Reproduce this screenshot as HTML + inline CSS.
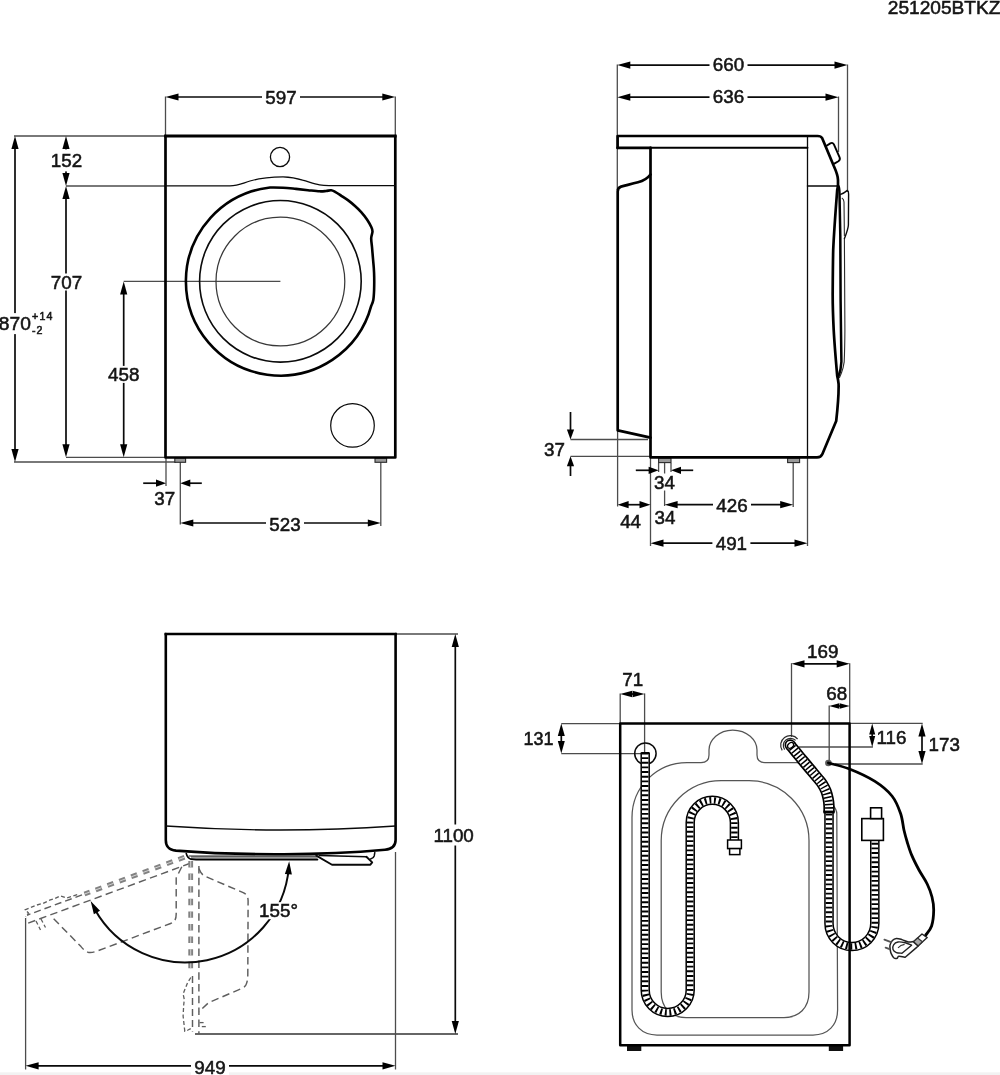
<!DOCTYPE html>
<html><head><meta charset="utf-8"><title>251205BTKZ</title>
<style>
html,body{margin:0;padding:0;background:#fff;}
body{width:1000px;height:1075px;overflow:hidden;}
svg{display:block;filter:grayscale(1) blur(0.35px);}
text{font-family:"Liberation Sans",sans-serif;fill:#151515;stroke:#151515;stroke-width:0.55;}
.thick{stroke:#000;stroke-width:2.7;fill:none;stroke-linejoin:round;stroke-linecap:round;}
.thick2{stroke:#000;stroke-width:2.5;fill:none;stroke-linejoin:round;stroke-linecap:round;}
.med{stroke:#0a0a0a;stroke-width:1.5;fill:none;stroke-linejoin:round;stroke-linecap:round;}
.thin{stroke:#2a2a2a;stroke-width:1.1;fill:none;stroke-linejoin:round;}
.ext{stroke:#4c4c4c;stroke-width:1.3;fill:none;}
.dim{stroke:#0a0a0a;stroke-width:1.7;fill:none;}
.panel{stroke:#555;stroke-width:1.25;fill:none;}
.dash{stroke:#5e5e5e;stroke-width:1.45;fill:none;stroke-dasharray:7.5 4.3;stroke-linejoin:round;}
.dashs{stroke:#5e5e5e;stroke-width:1.3;fill:none;stroke-dasharray:4 2.5;stroke-linejoin:round;}
.gdash{stroke:#828282;stroke-width:4.8;fill:none;stroke-dasharray:6.4 6.2;}
.gdashw{stroke:#dcdcdc;stroke-width:0.9;fill:none;stroke-dasharray:6.4 6.2;}
</style></head><body>
<svg width="1000" height="1075" viewBox="0 0 1000 1075">
<rect x="0" y="0" width="1000" height="1075" fill="#fff"/>
<rect x="0" y="1072.3" width="1000" height="2.7" fill="#f2f2f2"/>

<text x="887.8" y="14.1" font-size="18.8" text-anchor="start" textLength="112.6" lengthAdjust="spacingAndGlyphs">251205BTKZ</text>
<g id="front">
<line x1="165.5" y1="96.5" x2="165.5" y2="136" class="ext"/>
<line x1="395.3" y1="96.5" x2="395.3" y2="136" class="ext"/>
<line x1="173.3" y1="97" x2="387.5" y2="97" class="dim"/>
<polygon points="165.50,97.00 178.50,93.40 178.50,100.60" fill="#000"/>
<polygon points="395.30,97.00 382.30,100.60 382.30,93.40" fill="#000"/>
<rect x="262.0" y="89.0" width="38" height="16" fill="#fff"/>
<text x="281" y="103.73" text-anchor="middle" font-size="18.8" >597</text>
<line x1="14" y1="136" x2="165.5" y2="136" class="ext"/>
<line x1="66" y1="186" x2="165.5" y2="186" class="ext"/>
<line x1="123.7" y1="281.4" x2="280.4" y2="281.4" class="ext"/>
<line x1="66" y1="457.3" x2="165.5" y2="457.3" class="ext"/>
<line x1="14" y1="462" x2="176" y2="462" class="ext"/>
<line x1="15" y1="143.8" x2="15" y2="454.2" class="dim"/>
<polygon points="15.00,136.00 18.60,149.00 11.40,149.00" fill="#000"/>
<polygon points="15.00,462.00 11.40,449.00 18.60,449.00" fill="#000"/>
<rect x="-2.2" y="313.1" width="33" height="21" fill="#fff"/>
<text x="-1.2" y="330.47" text-anchor="start" font-size="19.2" >870</text>
<text x="32" y="320.09" text-anchor="start" font-size="10.6" textLength="20.4" lengthAdjust="spacing">+14</text>
<text x="32" y="333.99" text-anchor="start" font-size="10.6" textLength="10.4" lengthAdjust="spacing">-2</text>
<line x1="66" y1="143.8" x2="66" y2="178.2" class="dim"/>
<polygon points="66.00,136.00 69.60,149.00 62.40,149.00" fill="#000"/>
<polygon points="66.00,186.00 62.40,173.00 69.60,173.00" fill="#000"/>
<rect x="48.5" y="149.4" width="36" height="22" fill="#fff"/>
<text x="66.5" y="167.13" text-anchor="middle" font-size="18.8" >152</text>
<line x1="66" y1="193.8" x2="66" y2="449.5" class="dim"/>
<polygon points="66.00,186.00 69.60,199.00 62.40,199.00" fill="#000"/>
<polygon points="66.00,457.30 62.40,444.30 69.60,444.30" fill="#000"/>
<rect x="48.5" y="273.5" width="36" height="17" fill="#fff"/>
<text x="66.5" y="288.73" text-anchor="middle" font-size="18.8" >707</text>
<line x1="123.7" y1="289.2" x2="123.7" y2="449.5" class="dim"/>
<polygon points="123.70,281.40 127.30,294.40 120.10,294.40" fill="#000"/>
<polygon points="123.70,457.30 120.10,444.30 127.30,444.30" fill="#000"/>
<rect x="105.7" y="365.9" width="36" height="17" fill="#fff"/>
<text x="123.7" y="381.13" text-anchor="middle" font-size="18.8" >458</text>
<line x1="166" y1="457.5" x2="166" y2="486" class="ext"/>
<line x1="180.3" y1="462" x2="180.3" y2="524.5" class="ext"/>
<line x1="143.2" y1="483.2" x2="160" y2="483.2" class="dim"/>
<polygon points="166.00,483.20 156.00,486.80 156.00,479.60" fill="#000"/>
<line x1="187" y1="483.2" x2="201.8" y2="483.2" class="dim"/>
<polygon points="180.30,483.20 190.30,479.60 190.30,486.80" fill="#000"/>
<text x="164.8" y="504.53" text-anchor="middle" font-size="18.8" >37</text>
<line x1="380.8" y1="462" x2="380.8" y2="526" class="ext"/>
<line x1="188.10000000000002" y1="523" x2="373.0" y2="523" class="dim"/>
<polygon points="180.30,523.00 193.30,519.40 193.30,526.60" fill="#000"/>
<polygon points="380.80,523.00 367.80,526.60 367.80,519.40" fill="#000"/>
<rect x="266.0" y="516.2" width="38" height="16" fill="#fff"/>
<text x="285" y="530.93" text-anchor="middle" font-size="18.8" >523</text>
<rect x="174.8" y="458" width="10.8" height="4.3" fill="#9a9a9a" stroke="#2a2a2a" stroke-width="1.1"/>
<rect x="375" y="458" width="11.6" height="4.3" fill="#9a9a9a" stroke="#2a2a2a" stroke-width="1.1"/>
<path d="M165.5,136 L165.5,457.5 L395.3,457.5 L395.3,136" class="thick" />
<line x1="164.15" y1="136" x2="396.65" y2="136" class="thick" style="stroke-width:2.9;stroke-linecap:butt"/>
<path d="M165.5,185.8 L230,185.8 C238,185.8 243,183 250,181 C262,177.6 272,177 283,176.9 C292,177 298,178.6 302.6,180.2 C310,182.3 314,184 319.5,184.9 C323,185.5 326,185.6 329,185.6 L395.3,185.6" class="med" style="stroke-width:1.3" />
<circle cx="280" cy="157" r="9.6" class="med" style="stroke-width:1.3"/>
<circle cx="352.5" cy="425.4" r="21.8" class="med" style="stroke-width:1.2"/>
<circle cx="280.4" cy="281.3" r="80.8" class="med" style="stroke-width:1.6"/>
<circle cx="280.4" cy="281.5" r="64.4" class="thin" style="stroke:#383838;stroke-width:1.25"/>
<path d="M371.29,305.71 A94.3,94.3 0 1 1 270.00,187.55 C272.17,187.58 278.67,187.48 283.00,187.70 C287.33,187.92 291.83,188.48 296.00,188.90 C300.17,189.32 304.08,189.80 308.00,190.20 C311.92,190.60 316.50,191.17 319.50,191.30 C322.50,191.43 324.05,191.17 326.00,191.00 C327.95,190.83 329.68,190.15 331.20,190.30 C332.72,190.45 333.47,191.02 335.10,191.90 C336.73,192.78 338.82,194.18 341.00,195.60 C343.18,197.02 345.87,198.67 348.20,200.40 C350.53,202.13 352.83,204.05 355.00,206.00 C357.17,207.95 359.20,209.85 361.20,212.10 C363.20,214.35 365.30,216.97 367.00,219.50 C368.70,222.03 370.48,225.28 371.40,227.30 C372.32,229.32 372.53,229.78 372.50,231.60 C372.47,233.42 371.28,235.63 371.20,238.20 C371.12,240.77 371.72,243.75 372.00,247.00 C372.28,250.25 372.60,254.20 372.90,257.70 C373.20,261.20 373.58,264.75 373.80,268.00 C374.02,271.25 374.15,273.53 374.20,277.20 C374.25,280.87 374.25,286.20 374.10,290.00 C373.95,293.80 373.77,297.38 373.30,300.00 C372.83,302.62 371.62,304.76 371.29,305.71" class="thick" style="stroke-width:2.6" />
</g>
<g id="side">
<line x1="617.3" y1="64.5" x2="617.3" y2="190" class="ext"/>
<line x1="847.5" y1="64.5" x2="847.5" y2="192" class="ext"/>
<line x1="838.5" y1="96.5" x2="838.5" y2="152" class="ext"/>
<line x1="625.0999999999999" y1="65.1" x2="839.7" y2="65.1" class="dim"/>
<polygon points="617.30,65.10 630.30,61.50 630.30,68.70" fill="#000"/>
<polygon points="847.50,65.10 834.50,68.70 834.50,61.50" fill="#000"/>
<rect x="709.5" y="56.6" width="38" height="16" fill="#fff"/>
<text x="728.5" y="71.33" text-anchor="middle" font-size="18.8" >660</text>
<line x1="625.0999999999999" y1="97.2" x2="830.7" y2="97.2" class="dim"/>
<polygon points="617.30,97.20 630.30,93.60 630.30,100.80" fill="#000"/>
<polygon points="838.50,97.20 825.50,100.80 825.50,93.60" fill="#000"/>
<rect x="709.5" y="88.7" width="38" height="16" fill="#fff"/>
<text x="728.5" y="103.43" text-anchor="middle" font-size="18.8" >636</text>
<line x1="570.5" y1="439.5" x2="648" y2="439.5" class="ext"/>
<line x1="570.5" y1="456.3" x2="650" y2="456.3" class="ext"/>
<line x1="570.5" y1="412" x2="570.5" y2="433" class="dim"/>
<polygon points="570.50,439.50 566.90,429.50 574.10,429.50" fill="#000"/>
<line x1="570.5" y1="462" x2="570.5" y2="476" class="dim"/>
<polygon points="570.50,456.30 574.10,466.30 566.90,466.30" fill="#000"/>
<text x="554.5" y="455.73" text-anchor="middle" font-size="18.8" >37</text>
<line x1="617.6" y1="430" x2="617.6" y2="506.5" class="ext"/>
<line x1="650.5" y1="458" x2="650.5" y2="546" class="ext"/>
<line x1="658.6" y1="463" x2="658.6" y2="472" class="ext"/>
<line x1="671" y1="463" x2="671" y2="472" class="ext"/>
<line x1="664.6" y1="463" x2="664.6" y2="473.5" class="ext"/>
<line x1="664.6" y1="490.5" x2="664.6" y2="506" class="ext"/>
<line x1="793.2" y1="462.5" x2="793.2" y2="507" class="ext"/>
<line x1="807.5" y1="458" x2="807.5" y2="546" class="ext"/>
<line x1="635.8" y1="470.3" x2="652" y2="470.3" class="dim"/>
<polygon points="658.60,470.30 648.60,473.90 648.60,466.70" fill="#000"/>
<line x1="677" y1="470.3" x2="693.2" y2="470.3" class="dim"/>
<polygon points="671.00,470.30 681.00,466.70 681.00,473.90" fill="#000"/>
<text x="664.5" y="488.73" text-anchor="middle" font-size="18.8" >34</text>
<line x1="624.2" y1="504.7" x2="643.9" y2="504.7" class="dim"/>
<polygon points="617.60,504.70 628.60,501.10 628.60,508.30" fill="#000"/>
<polygon points="650.50,504.70 639.50,508.30 639.50,501.10" fill="#000"/>
<text x="630.6" y="527.73" text-anchor="middle" font-size="18.8" >44</text>
<text x="665" y="524.23" text-anchor="middle" font-size="18.8" >34</text>
<line x1="672.4" y1="504.7" x2="785.4000000000001" y2="504.7" class="dim"/>
<polygon points="664.60,504.70 677.60,501.10 677.60,508.30" fill="#000"/>
<polygon points="793.20,504.70 780.20,508.30 780.20,501.10" fill="#000"/>
<rect x="713.0" y="497.0" width="38" height="16" fill="#fff"/>
<text x="732" y="511.73" text-anchor="middle" font-size="18.8" >426</text>
<line x1="658.3" y1="543.2" x2="799.7" y2="543.2" class="dim"/>
<polygon points="650.50,543.20 663.50,539.60 663.50,546.80" fill="#000"/>
<polygon points="807.50,543.20 794.50,546.80 794.50,539.60" fill="#000"/>
<rect x="712.4" y="535.6" width="38" height="16" fill="#fff"/>
<text x="731.4" y="550.33" text-anchor="middle" font-size="18.8" >491</text>
<rect x="658.6" y="458" width="12.4" height="4.6" fill="#9a9a9a" stroke="#2a2a2a" stroke-width="1.1"/>
<rect x="787.6" y="458" width="12" height="4.6" fill="#9a9a9a" stroke="#2a2a2a" stroke-width="1.1"/>
<line x1="807.5" y1="136" x2="807.5" y2="457.5" class="med" style="stroke-width:1.3"/>
<line x1="807.5" y1="186" x2="838" y2="186" class="med"/>
<path d="M650.5,147.8 L807.5,147.8" class="thick2" style="stroke-width:1.9" />
<path d="M617.6,148 L617.6,136 L817.5,136 C820,136 821.2,136.3 822.2,138.2 L833.7,165.8 C836.5,172 838,176 838,180 L838,186" class="thick" />
<path d="M617.6,147.8 L650.5,147.8" class="thick" />
<path d="M825.8,146.2 L830.3,143.4 C832,142.4 833.3,143 834,144.6 L839.6,157.4 C840.3,159.2 840,160.2 838.4,161.2 L834.3,163.6" class="thick2" style="stroke-width:1.9" />
<path d="M650.5,147.8 L650.5,457.4 L817,457.4 C820,457.4 821.3,456.6 822.4,454 L836.2,421 C838,405 838.8,392 838.6,384 C838.2,380 837.6,377.5 837.2,375.8 C836,362 834.5,345 833.7,330 C832.8,312 832.6,300 832.7,291 C832.8,275 832.9,262 833.2,250 C834,232 835.5,212 837.2,190 L838,186" class="thick" />
<path d="M650.5,174.5 C647.5,178.5 643,181 638,182.3 C632,183.9 626,185.3 621,186.6 C618.5,187.4 617.7,188.8 617.7,191.5 L617.7,430.4 L650.5,437.6" class="thick" />
<path d="M838.6,186.5 C839.2,188 839.4,190 839.5,194 L840.3,236 L840.6,300 C840.8,330 841.2,350 841.4,361.8 C841.2,367 840.2,372 838.4,377" class="thick2" />
<path d="M844.4,238.6 L844.9,330 C844.8,345 844.5,355 844.2,361.8 C843.6,366 842.6,370 841.4,373 L839.3,378" class="thin" />
<path d="M840.6,194.4 C843,193.6 845,192.4 847.4,190.4 C848.6,191 848.6,192 848.6,194 L848.4,225 C848.2,229 846.6,233 844.4,238.6" class="med" style="stroke-width:1.4" />
<path d="M841.8,198 C843.2,198.6 843.9,199.6 844,202 L844.4,236" class="thin" />
</g>
<g id="top">
<line x1="395.8" y1="634" x2="458" y2="634" class="ext"/>
<line x1="195" y1="1034" x2="458" y2="1034" class="ext" style="stroke:#333;stroke-width:1.3"/>
<line x1="455.3" y1="641.8" x2="455.3" y2="1026.2" class="dim"/>
<polygon points="455.30,634.00 458.90,647.00 451.70,647.00" fill="#000"/>
<polygon points="455.30,1034.00 451.70,1021.00 458.90,1021.00" fill="#000"/>
<rect x="430.6" y="824.5" width="46" height="21" fill="#fff"/>
<text x="453.6" y="841.73" text-anchor="middle" font-size="18.8" >1100</text>
<line x1="395.5" y1="852" x2="395.5" y2="1069.5" class="ext"/>
<line x1="25.6" y1="918" x2="25.6" y2="1069.5" class="ext"/>
<line x1="33.4" y1="1065.8" x2="387.7" y2="1065.8" class="dim"/>
<polygon points="25.60,1065.80 38.60,1062.20 38.60,1069.40" fill="#000"/>
<polygon points="395.50,1065.80 382.50,1069.40 382.50,1062.20" fill="#000"/>
<rect x="191.0" y="1059.6" width="38" height="16" fill="#fff"/>
<text x="210" y="1074.33" text-anchor="middle" font-size="18.8" >949</text>
<path d="M184.50,857.22 L84.50,894.02" class="gdash"/>
<path d="M184.50,857.22 L84.50,894.02" class="gdashw"/>
<path d="M82,894.9 L27,915.2" class="dash" style="stroke-dasharray:7 4" />
<path d="M190.2,863.3 L26.8,923.6" class="dash" />
<path d="M77.2,894.6 L71,896.6 L66.4,898 L60.4,895.8 L55,898.4 L49.6,900.2 L43,903.4 L37,905 L25,909.8 L28.5,913 L25.8,917" class="dashs" />
<path d="M181.8,866.8 L176.2,878 L176.2,914 C176.2,919.5 174.5,922 170.6,923.5 L97.8,950.8 C92.5,952.6 90.5,953 88,952.2 C85,951 83.5,949.5 81,946.6 L50.8,915.8" class="dash" />
<path d="M36,921 L40.5,930" class="dashs" />
<path d="M41,919 L45.5,927.5" class="dashs" />
<path d="M190.7,861 L190.7,973" class="gdash"/>
<path d="M190.7,861 L190.7,973" class="gdashw"/>
<path d="M192.5,976 L192.5,1031.5" class="dash" style="stroke-dasharray:7 4" />
<path d="M198.9,866 L198.9,1034" class="dash" />
<path d="M190.8,977.5 L187.5,983 L183.1,994 L184.3,999.5 L183.7,1005 L183.1,1016 L184,1024 L184.8,1031.4 L188,1030 L191.9,1028" class="dashs" />
<path d="M198.9,868.5 C200.5,872.5 202,874.6 204.4,876 L243.2,892.6 C246.8,894.4 248.1,897 248.1,901 L247.8,975.3 C247.6,981 246.8,983.5 245.8,985.2 C244.6,987 243.6,987.8 241.4,988.6 L208.4,1002.8 L199,1011.6" class="dash" />
<path d="M199.6,1022.6 L205.4,1022.6" class="dashs" />
<path d="M201.8,1026.6 L207.6,1026.6" class="dashs" />
<path d="M288.81,867.75 A103.8,103.8 0 0 1 94.61,909.02" class="med" style="stroke-width:2.0" />
<polygon points="289.17,861.24 291.87,874.43 284.88,874.00" fill="#000"/>
<polygon points="90.65,901.08 100.01,910.76 93.89,914.15" fill="#000"/>
<rect x="258.5" y="902.2" width="40" height="17" fill="#fff"/>
<text x="278.5" y="917.43" text-anchor="middle" font-size="18.8" >155°</text>
<path d="M165.8,634 L165.8,840 C165.8,846.5 168.5,849.8 176,850.6 C210,853.4 245,854.3 280,854.2 C315,854.3 350,853 385,849.8 C392.5,849 395.6,846 395.6,840 L395.6,634" class="thick2" style="stroke-width:2.6" />
<line x1="164.5" y1="634" x2="396.9" y2="634" class="thick" style="stroke-width:2.7;stroke-linecap:butt"/>
<path d="M165.8,826 Q280,834 395.6,826" class="med" style="stroke-width:1.3" />
<rect x="191" y="856" width="126.5" height="3.6" fill="#9c9c9c"/>
<path d="M186.3,853.6 C187,856.5 188.5,858.3 191,859.2 L196,859.6 L317.5,859.6" class="thick2" style="stroke-width:1.7" />
<path d="M189,856 L318.5,856" class="med" style="stroke-width:1.2;stroke:#1a1a1a" />
<path d="M316.3,855.6 L332,864.7 L370.4,864.7 L372.2,862.4 L366.4,856.8" class="med" style="stroke-width:1.9" />
<path d="M319.5,855.5 L366.4,856.8" class="med" style="stroke-width:1.5" />
<path d="M370.6,858.9 C372.6,858.5 373.8,857.5 374.2,856 L374.8,852.6" class="med" style="stroke-width:1.5" />
</g>
<g id="back">
<line x1="620.2" y1="693.4" x2="620.2" y2="724" class="ext"/>
<line x1="644.6" y1="693.4" x2="644.6" y2="752" class="ext"/>
<line x1="627.4000000000001" y1="694" x2="637.4" y2="694" class="dim"/>
<polygon points="620.20,694.00 632.20,690.80 632.20,697.20" fill="#000"/>
<polygon points="644.60,694.00 632.60,697.20 632.60,690.80" fill="#000"/>
<text x="632.8" y="686.43" text-anchor="middle" font-size="18.8" >71</text>
<line x1="561.3" y1="723.6" x2="620" y2="723.6" class="ext"/>
<line x1="561.3" y1="753.6" x2="641" y2="753.6" class="ext"/>
<line x1="561.3" y1="731.1" x2="561.3" y2="746.1" class="dim"/>
<polygon points="561.30,723.60 564.80,736.10 557.80,736.10" fill="#000"/>
<polygon points="561.30,753.60 557.80,741.10 564.80,741.10" fill="#000"/>
<text x="553.6" y="745.34" text-anchor="end" font-size="18" >131</text>
<line x1="791.5" y1="663.2" x2="791.5" y2="737" class="ext"/>
<line x1="849.7" y1="663.2" x2="849.7" y2="724" class="ext"/>
<line x1="799.3" y1="663.8" x2="841.9000000000001" y2="663.8" class="dim"/>
<polygon points="791.50,663.80 804.50,660.20 804.50,667.40" fill="#000"/>
<polygon points="849.70,663.80 836.70,667.40 836.70,660.20" fill="#000"/>
<text x="822.7" y="657.53" text-anchor="middle" font-size="18.8" >169</text>
<line x1="829.2" y1="705.4" x2="829.2" y2="761" class="ext"/>
<line x1="835.2" y1="706" x2="843.7" y2="706" class="dim"/>
<polygon points="829.20,706.00 839.20,703.20 839.20,708.80" fill="#000"/>
<polygon points="849.70,706.00 839.70,708.80 839.70,703.20" fill="#000"/>
<text x="836.7" y="700.43" text-anchor="middle" font-size="18.8" >68</text>
<line x1="849.7" y1="723.4" x2="922.7" y2="723.4" class="ext"/>
<line x1="799" y1="747" x2="872.9" y2="747" class="ext"/>
<line x1="872.2" y1="730.0" x2="872.2" y2="740.4" class="dim"/>
<polygon points="872.20,723.40 875.20,734.40 869.20,734.40" fill="#000"/>
<polygon points="872.20,747.00 869.20,736.00 875.20,736.00" fill="#000"/>
<text x="876.5" y="743.93" text-anchor="start" font-size="18.8" >116</text>
<line x1="835" y1="764" x2="922.7" y2="764" class="ext"/>
<line x1="922" y1="731.1999999999999" x2="922" y2="756.2" class="dim"/>
<polygon points="922.00,723.40 925.60,736.40 918.40,736.40" fill="#000"/>
<polygon points="922.00,764.00 918.40,751.00 925.60,751.00" fill="#000"/>
<text x="928.5" y="751.13" text-anchor="start" font-size="18.8" >173</text>
<path d="M632,1010 L632,817.5 C632,787.1 656.6,762.6 687,762.6 L701,762.6 C706.5,762.6 709,760 709,755 L709,750 C709,740 719,730 732.7,730 C747,730 757,740 757,750 L757,755 C757,760 759.5,762.6 765,762.6 L797,762.6 C806,763 820,778 828,798 C831,806 836.8,806 836.8,814 L837.6,1010 C837.6,1025 828,1035 813,1035 L657,1035 C642,1035 632,1025 632,1010 Z" class="panel" />
<path d="M661.2,992 L661.2,840.6 C661.2,807.5 688.1,780.6 721.2,780.6 L749,780.6 C782,780.6 809,807.5 809,840.6 L809,992 C809,1008 799,1017.6 784,1017.6 L686,1017.6 C671,1017.6 661.2,1008 661.2,992 Z" class="panel" />
<circle cx="645.4" cy="753.6" r="10.7" class="med" style="stroke-width:1.5"/>
<path d="M645.2,752.5 L645.2,990 A22.5,22.5 0 0 0 690.2,990 L690.2,822.4 A22.1,22.1 0 0 1 734.4,822.4 L734.4,840" fill="none" stroke="#000" stroke-width="9.5" stroke-linecap="butt"/>
<path d="M645.2,752.5 L645.2,990 A22.5,22.5 0 0 0 690.2,990 L690.2,822.4 A22.1,22.1 0 0 1 734.4,822.4 L734.4,840" fill="none" stroke="#fff" stroke-width="6.5" stroke-linecap="butt"/>
<path d="M645.2,752.5 L645.2,990 A22.5,22.5 0 0 0 690.2,990 L690.2,822.4 A22.1,22.1 0 0 1 734.4,822.4 L734.4,840" fill="none" stroke="#000" stroke-width="6.5" stroke-dasharray="1.9 2.7500000000000004" stroke-dashoffset="0"/>
<rect x="641.2" y="752" width="8" height="2" fill="#000"/>
<rect x="727.6" y="840" width="13.8" height="8.6" fill="#fff" stroke="#000" stroke-width="1.5"/>
<rect x="729.6" y="848.6" width="10.3" height="6" fill="#fff" stroke="#000" stroke-width="1.5"/>
<path d="M782.2,750.4 A9.6,9.6 0 0 1 797.6,739.0" class="thin" style="stroke-width:1.2"/>
<path d="M784.6,749.6 A7.2,7.2 0 0 1 795.6,740.4" class="thin" style="stroke-width:1.2"/>
<path d="M829,809 L829,923.6 A22.9,22.9 0 0 0 874.8,923.6 L874.8,840.5" fill="none" stroke="#000" stroke-width="9.6" stroke-linecap="butt"/>
<path d="M829,809 L829,923.6 A22.9,22.9 0 0 0 874.8,923.6 L874.8,840.5" fill="none" stroke="#fff" stroke-width="6.6" stroke-linecap="butt"/>
<path d="M829,809 L829,923.6 A22.9,22.9 0 0 0 874.8,923.6 L874.8,840.5" fill="none" stroke="#000" stroke-width="6.6" stroke-dasharray="1.9 2.7500000000000004" stroke-dashoffset="0"/>
<path d="M790.20,745.00 C791.83,747.00 796.70,753.00 800.00,757.00 C803.30,761.00 807.00,765.42 810.00,769.00 C813.00,772.58 815.95,776.00 818.00,778.50 C820.05,781.00 820.97,781.92 822.30,784.00 C823.63,786.08 825.02,788.50 826.00,791.00 C826.98,793.50 827.70,796.50 828.20,799.00 C828.70,801.50 828.87,803.75 829.00,806.00 C829.13,808.25 829.00,811.42 829.00,812.50" fill="none" stroke="#000" stroke-width="11.4"/>
<circle cx="790.2" cy="745" r="5.7" fill="#000"/>
<path d="M790.20,745.00 C791.83,747.00 796.70,753.00 800.00,757.00 C803.30,761.00 807.00,765.42 810.00,769.00 C813.00,772.58 815.95,776.00 818.00,778.50 C820.05,781.00 820.97,781.92 822.30,784.00 C823.63,786.08 825.02,788.50 826.00,791.00 C826.98,793.50 827.70,796.50 828.20,799.00 C828.70,801.50 828.87,803.75 829.00,806.00 C829.13,808.25 829.00,811.42 829.00,812.50" fill="none" stroke="#fff" stroke-width="8"/>
<circle cx="790.2" cy="745" r="4" fill="#fff"/>
<path d="M790.20,745.00 C791.83,747.00 796.70,753.00 800.00,757.00 C803.30,761.00 807.00,765.42 810.00,769.00 C813.00,772.58 815.95,776.00 818.00,778.50 C820.05,781.00 820.97,781.92 822.30,784.00 C823.63,786.08 825.02,788.50 826.00,791.00 C826.98,793.50 827.70,796.50 828.20,799.00 C828.70,801.50 828.87,803.75 829.00,806.00 C829.13,808.25 829.00,811.42 829.00,812.50" fill="none" stroke="#000" stroke-width="8" stroke-dasharray="1.5 2.1" stroke-dashoffset="-3"/>
<rect x="823.4" y="810.6" width="11.2" height="2.8" fill="#000"/>
<ellipse cx="790.6" cy="745.4" rx="3.4" ry="2.4" transform="rotate(-40 790.6 745.4)" fill="#fff" stroke="#000" stroke-width="1.3"/>
<rect x="861.8" y="818.6" width="21.6" height="21.8" fill="#fff" stroke="#000" stroke-width="1.6"/>
<rect x="870.6" y="807.8" width="11" height="10.8" fill="#fff" stroke="#000" stroke-width="1.6"/>
<rect x="627" y="1045" width="14.3" height="6" fill="#111"/>
<rect x="828.8" y="1045" width="14.3" height="6" fill="#111"/>
<rect x="620.2" y="723.6" width="229.4" height="321.6" class="thick2" style="stroke-width:2.5"/>
<circle cx="828.4" cy="763" r="3.3" fill="#5a5a5a"/>
<path d="M828.40,763.00 C831.92,764.00 841.73,765.93 849.50,769.00 C857.27,772.07 867.92,776.90 875.00,781.40 C882.08,785.90 887.73,790.65 892.00,796.00 C896.27,801.35 898.60,807.78 900.60,813.50 C902.60,819.22 902.90,825.55 904.00,830.30 C905.10,835.05 905.90,837.82 907.20,842.00 C908.50,846.18 909.83,850.73 911.80,855.40 C913.77,860.07 916.43,865.23 919.00,870.00 C921.57,874.77 925.03,879.50 927.20,884.00 C929.37,888.50 930.92,892.67 932.00,897.00 C933.08,901.33 933.77,905.17 933.70,910.00 C933.63,914.83 932.97,921.77 931.60,926.00 C930.23,930.23 926.52,933.83 925.50,935.40" class="thick2" style="stroke-width:2.8" />
<path d="M922,934 L927.2,937.6 L918,946 L913.2,942 Z" class="thin" style="stroke-width:1.4;stroke:#222;fill:#fff" />
<path d="M917.6,938 L922.4,941.8 L918,946 L913.2,942 Z" class="thin" style="stroke-width:1.2;stroke:#333;fill:#aaa" />
<path d="M913.20,941.60 C912.40,941.67 910.27,942.33 908.40,942.00 C906.53,941.67 904.00,940.20 902.00,939.60 C900.00,939.00 898.00,938.27 896.40,938.40 C894.80,938.53 893.47,939.27 892.40,940.40 C891.33,941.53 890.35,943.60 890.00,945.20 C889.65,946.80 890.10,948.60 890.30,950.00 C890.50,951.40 890.58,952.27 891.20,953.60 C891.82,954.93 893.00,957.23 894.00,958.00 C895.00,958.77 896.40,958.50 897.20,958.20 C898.00,957.90 897.47,956.37 898.80,956.20 C900.13,956.03 904.13,957.03 905.20,957.20 L916.4,947.6 L918,946 Z" class="thin" style="stroke-width:1.5;stroke:#222;fill:#fff" />
<path d="M911.60,945.20 C910.53,944.80 907.47,943.33 905.20,942.80 C902.93,942.27 899.93,941.67 898.00,942.00 C896.07,942.33 894.43,943.53 893.60,944.80 C892.77,946.07 892.53,948.30 893.00,949.60 C893.47,950.90 894.90,952.00 896.40,952.60 C897.90,953.20 901.07,953.10 902.00,953.20 Z" class="thin" style="stroke-width:1.4;stroke:#222" />
<path d="M898,947.8 C900,945.6 902,944.8 904.6,944.4" class="thin" style="stroke-width:1.1;stroke:#333" />
<line x1="884.4" y1="939.6" x2="891" y2="942.2" class="med" style="stroke:#555;stroke-width:1.8"/>
<line x1="885.6" y1="947.6" x2="889.6" y2="949.2" class="med" style="stroke:#555;stroke-width:1.8"/>
</g>
</svg></body></html>
